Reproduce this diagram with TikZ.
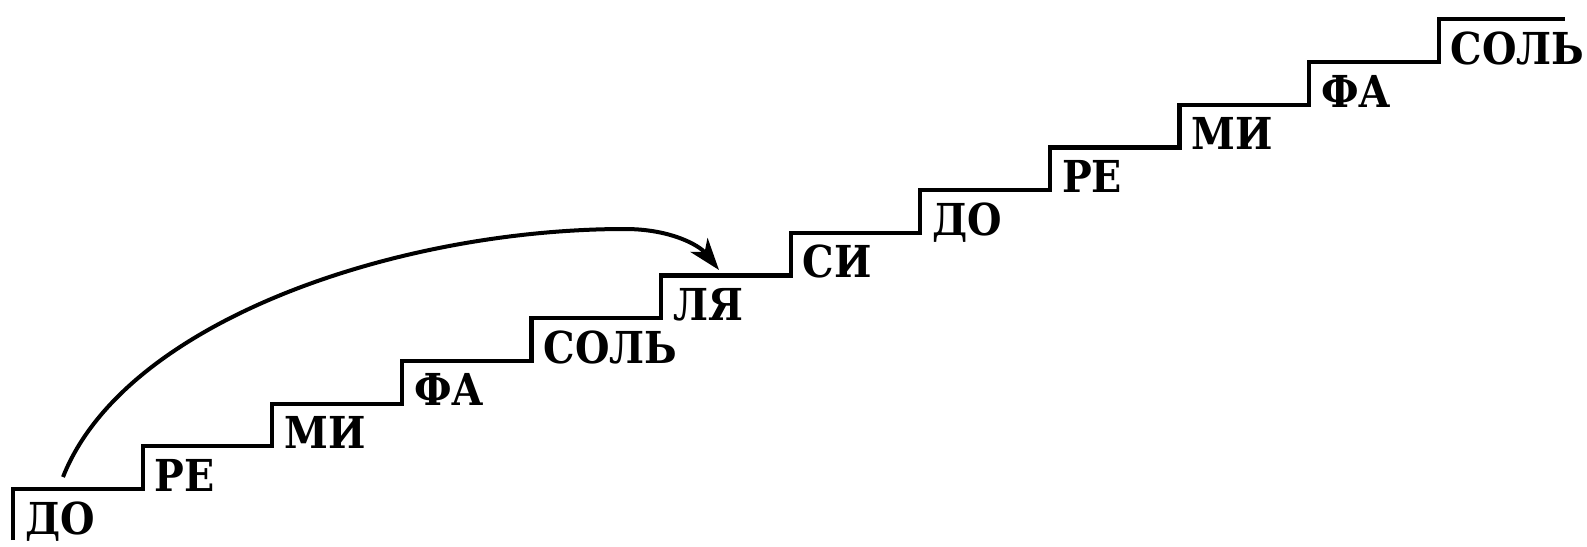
\documentclass[tikz,border=0pt]{standalone}
\usepackage{fontspec}
\setmainfont{DejaVu Serif}[FakeStretch=0.9]
\usetikzlibrary{arrows.meta}
\begin{document}
\begin{tikzpicture}[x=1pt,y=-1pt,
  stair/.style={line width=4.2pt, line join=miter, line cap=butt},
  note/.style={anchor=base west, inner sep=0pt, font=\fontsize{44}{44}\selectfont\bfseries},
  leap/.style={line width=4pt, -{Stealth[length=32pt,width=22pt,inset=9pt]}}]
\useasboundingbox (0,0) rectangle (1587,546);
\def\sx{129.6}\def\sy{42.7}
\coordinate (b) at (13,540);
\foreach \i in {0,...,11} { \coordinate (s\i) at ({13+\i*\sx},{489-\i*\sy}); }
\coordinate (e) at (1565,{489-11*\sy});
\draw[stair] (b) -- (s0) -| (s1) -| (s2) -| (s3) -| (s4) -| (s5) -| (s6)
  -| (s7) -| (s8) -| (s9) -| (s10) -| (s11) -- (e);
\foreach \t [count=\j from 0] in {ДО,РЕ,МИ,ФА,СОЛЬ,ЛЯ,СИ,ДО,РЕ,МИ,ФА,СОЛЬ}
  \node[note] (n\j) at ({13+\j*\sx+12},{489-\j*\sy+45}) {\t};
\coordinate (a0) at (63,477);
\coordinate (ap) at (625,229);
\coordinate (a1) at (719,270);
\draw[leap] (a0) .. controls (125,320) and (400,229) .. (ap)
  .. controls (670,229) and (699,245) .. (a1);
\end{tikzpicture}
\end{document}
